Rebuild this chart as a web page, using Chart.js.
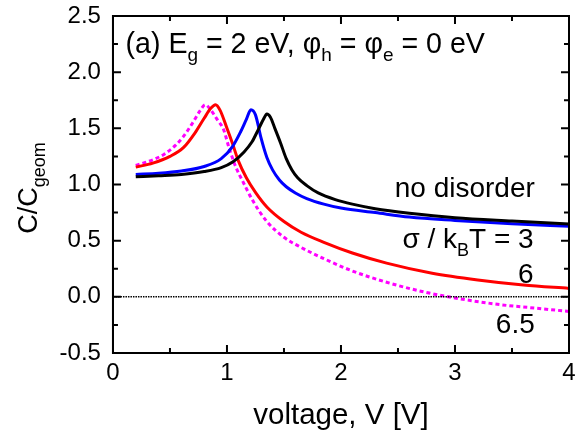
<!DOCTYPE html>
<html>
<head>
<meta charset="utf-8">
<script src="https://cdn.jsdelivr.net/npm/chart.js@4.4.1/dist/chart.umd.min.js"></script>
<style>
  html, body { margin: 0; padding: 0; background: #fff; }
  #wrap { width: 577px; height: 436px; }
</style>
</head>
<body>
<div id="wrap"><canvas id="chart" width="577" height="436"></canvas></div>
<script>
// --- Data ---
const xMin = 0, xMax = 4, yMin = -0.5, yMax = 2.5;
const xMajorTicks = [0, 1, 2, 3, 4];
const xMinorTicks = [0.5, 1.5, 2.5, 3.5];
const yMajorTicks = [-0.5, 0.0, 0.5, 1.0, 1.5, 2.0, 2.5];
const yMinorTicks = [-0.25, 0.25, 0.75, 1.25, 1.75, 2.25];

const noDisorderV = [0.2, 0.4, 0.6, 0.8, 0.95, 1.05, 1.15, 1.22, 1.28, 1.32, 1.35, 1.38, 1.42, 1.47, 1.52, 1.57, 1.62, 1.7, 1.8, 1.95, 2.1, 2.3, 2.6, 3.0, 3.5, 4.0];
const noDisorderC = [1.068, 1.078, 1.09, 1.115, 1.15, 1.2, 1.29, 1.38, 1.50, 1.58, 1.627, 1.60, 1.50, 1.37, 1.23, 1.13, 1.06, 0.99, 0.925, 0.865, 0.825, 0.785, 0.745, 0.705, 0.675, 0.648];

const sigma3V = [0.2, 0.4, 0.6, 0.8, 0.95, 1.05, 1.12, 1.17, 1.21, 1.25, 1.3, 1.35, 1.4, 1.46, 1.52, 1.6, 1.7, 1.85, 2.0, 2.3, 2.6, 3.0, 3.5, 4.0];
const sigma3C = [1.09, 1.10, 1.12, 1.16, 1.23, 1.34, 1.47, 1.58, 1.665, 1.62, 1.41, 1.24, 1.13, 1.04, 0.98, 0.925, 0.875, 0.825, 0.79, 0.75, 0.71, 0.68, 0.65, 0.628];

const sigma6V = [0.2, 0.35, 0.5, 0.62, 0.72, 0.8, 0.86, 0.9, 0.94, 1.0, 1.05, 1.1, 1.17, 1.25, 1.35, 1.5, 1.65, 1.85, 2.1, 2.4, 2.8, 3.2, 3.6, 4.0];
const sigma6C = [1.155, 1.19, 1.25, 1.33, 1.46, 1.59, 1.68, 1.71, 1.66, 1.50, 1.36, 1.21, 1.06, 0.93, 0.80, 0.67, 0.575, 0.485, 0.39, 0.30, 0.21, 0.15, 0.105, 0.075];

const sigma65V = [0.2, 0.35, 0.45, 0.55, 0.62, 0.7, 0.76, 0.81, 0.86, 0.92, 0.97, 1.02, 1.08, 1.14, 1.23, 1.35, 1.5, 1.65, 1.85, 2.1, 2.4, 2.7, 3.0, 3.4, 3.7, 4.0];
const sigma65C = [1.17, 1.22, 1.27, 1.35, 1.43, 1.55, 1.65, 1.71, 1.66, 1.57, 1.49, 1.32, 1.15, 1.025, 0.85, 0.67, 0.53, 0.44, 0.34, 0.23, 0.13, 0.05, -0.01, -0.07, -0.10, -0.13];

const zeroV = [xMin, xMax];
const zeroC = [0, 0];

const FONT = '"Liberation Sans", Arial, sans-serif';

function pts(xs, ys) {
    return xs.map((x, i) => ({ x: x, y: ys[i] }));
}

function line(label, xs, ys, color, dash) {
    return {
        label: label,
        data: pts(xs, ys),
        showLine: true,
        borderColor: color,
        borderWidth: 3,
        borderDash: dash || [],
        pointRadius: 0,
        cubicInterpolationMode: 'monotone',
        fill: false
    };
}

// only the outermost grid lines are kept: they make the frame
function edgeColor(lo, hi) {
    return c => (c.tick && (Math.abs(c.tick.value - lo) < 1e-9 || Math.abs(c.tick.value - hi) < 1e-9)) ? '#000' : 'rgba(0,0,0,0)';
}

// draws [text, sub?] pieces one after another
function drawRich(ctx, parts, x, y, size, align) {
    const subSize = Math.round(size * 0.65);
    let total = 0;
    parts.forEach(p => {
        ctx.font = (p[1] ? subSize : size) + 'px ' + FONT;
        total += ctx.measureText(p[0]).width;
    });
    let cx = x;
    if (align === 'right') cx = x - total;
    if (align === 'center') cx = x - total / 2;
    ctx.textAlign = 'left';
    ctx.textBaseline = 'alphabetic';
    parts.forEach(p => {
        ctx.font = (p[1] ? subSize : size) + 'px ' + FONT;
        ctx.fillText(p[0], cx, p[1] ? y + size * 0.28 : y);
        cx += ctx.measureText(p[0]).width;
    });
}

// frame edges, inward ticks on all four sides, text labels with subscripts
const decorPlugin = {
    id: 'decor',
    afterDraw(chart) {
        const ctx = chart.ctx;
        const a = chart.chartArea;
        const X = v => chart.scales.x.getPixelForValue(v);
        const Y = v => chart.scales.y.getPixelForValue(v);
        ctx.save();
        ctx.setLineDash([]);
        ctx.strokeStyle = '#000';
        ctx.lineWidth = 2;
        ctx.lineCap = 'square';

        ctx.beginPath();
        // frame edges in the same path as the ticks
        ctx.moveTo(X(xMin), Y(yMin)); ctx.lineTo(X(xMax), Y(yMin));
        ctx.lineTo(X(xMax), Y(yMax)); ctx.lineTo(X(xMin), Y(yMax));
        ctx.closePath();
        const tickX = (vals, len) => vals.forEach(v => {
            const px = X(v);
            ctx.moveTo(px, a.bottom); ctx.lineTo(px, a.bottom - len);
            ctx.moveTo(px, a.top); ctx.lineTo(px, a.top + len);
        });
        const tickY = (vals, len) => vals.forEach(v => {
            const py = Y(v);
            ctx.moveTo(a.left, py); ctx.lineTo(a.left + len, py);
            ctx.moveTo(a.right, py); ctx.lineTo(a.right - len, py);
        });
        tickX(xMajorTicks, 7);
        tickX(xMinorTicks, 4);
        tickY(yMajorTicks, 7);
        tickY(yMinorTicks, 4);
        ctx.stroke();

        ctx.fillStyle = '#000';
        drawRich(ctx, [['(a) E'], ['g', 1], [' = 2 eV, \u03c6'], ['h', 1], [' = \u03c6'], ['e', 1], [' = 0 eV']], X(0.11), Y(2.17), 28.6, 'left');
        drawRich(ctx, [['no disorder']], X(3.7), Y(0.89), 28, 'right');
        drawRich(ctx, [['\u03c3 / k'], ['B', 1], ['T = 3']], X(3.69), Y(0.435), 28, 'right');
        drawRich(ctx, [['6']], X(3.69), Y(0.12), 28, 'right');
        drawRich(ctx, [['6.5']], X(3.7), Y(-0.32), 28, 'right');

        drawRich(ctx, [['voltage, V [V]']], (a.left + a.right) / 2, 424, 29.5, 'center');
        ctx.translate(37, 188);
        ctx.rotate(-Math.PI / 2);
        drawRich(ctx, [['C/C'], ['geom', 1]], 0, 0, 27, 'center');
        ctx.restore();
    }
};

const chart = new Chart(document.getElementById('chart'), {
    type: 'scatter',
    data: {
        datasets: [
            {
                label: 'zero',
                data: pts(zeroV, zeroC),
                showLine: true,
                borderColor: '#000',
                borderWidth: 1.5,
                borderDash: [1.5, 1],
                pointRadius: 0
            },
            line('no disorder', noDisorderV, noDisorderC, '#000000'),
            line('3', sigma3V, sigma3C, '#0000ff'),
            line('6', sigma6V, sigma6C, '#ff0000'),
            line('6.5', sigma65V, sigma65C, '#ff00ff', [4, 3])
        ]
    },
    options: {
        responsive: false,
        animation: false,
        layout: { padding: { left: 47.6, right: 8, top: 16, bottom: 43 } },
        plugins: { legend: { display: false }, tooltip: { enabled: false } },
        scales: {
            x: {
                type: 'linear',
                min: xMin, max: xMax,
                grid: { display: true, drawTicks: false, lineWidth: 2, color: edgeColor(xMin, xMax) },
                border: { display: true, color: '#000', width: 2 },
                ticks: {
                    stepSize: 1, color: '#000', padding: 1, maxRotation: 0, autoSkip: false,
                    font: { family: FONT, size: 24, lineHeight: 1.583 }
                }
            },
            y: {
                type: 'linear',
                min: yMin, max: yMax,
                grid: { display: true, drawTicks: false, lineWidth: 2, color: edgeColor(yMin, yMax) },
                border: { display: true, color: '#000', width: 2 },
                ticks: {
                    stepSize: 0.5, color: '#000', padding: 12, autoSkip: false,
                    font: { family: FONT, size: 24, lineHeight: 0.1 },
                    callback: v => v.toFixed(1)
                }
            }
        }
    },
    plugins: [decorPlugin]
});
</script>
</body>
</html>
